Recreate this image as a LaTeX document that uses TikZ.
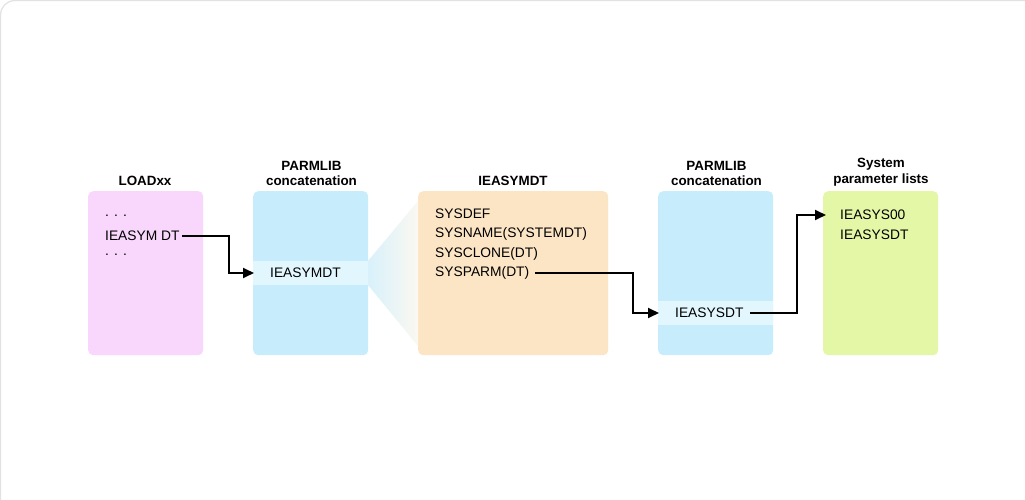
\documentclass[tikz,border=0pt]{standalone}
\usepackage{fontspec}
\setmainfont{Liberation Sans}
\usetikzlibrary{arrows.meta}
\definecolor{pinkbox}{HTML}{F9D6FB}
\definecolor{bluebox}{HTML}{C7EDFC}
\definecolor{bandblue}{HTML}{E2F6FE}
\definecolor{peachbox}{HTML}{FCE5C5}
\definecolor{greenbox}{HTML}{E4F7A6}
\definecolor{framegray}{HTML}{E2E2E2}
\definecolor{fanleft}{HTML}{D8F1FB}
\definecolor{fanright}{HTML}{FBF8F1}
\tikzset{
  panel/.style={rounded corners=5pt, draw=none, minimum width=115pt, minimum height=164pt, anchor=north west, inner sep=0pt},
  band/.style={fill=bandblue, draw=none, minimum width=115pt, minimum height=24pt, anchor=west, inner sep=0pt},
  title/.style={font=\bfseries\fontsize{13.4}{15.5}\selectfont, align=center, anchor=south, inner sep=0pt},
  txt/.style={font=\fontsize{13.8}{15}\selectfont, anchor=west, inner sep=0pt},
  conn/.style={line width=1.8pt, -{Triangle[length=11pt,width=10pt]}},
}
\begin{document}
\begin{tikzpicture}[x=1pt,y=-1pt]
\useasboundingbox (0,0) rectangle (1025,500);
\begin{scope}
\clip (0,0) rectangle (1025,500);
\draw[framegray, line width=1.2pt, rounded corners=14pt, fill=white] (0.6,0.6) rectangle (1060,540);
\end{scope}
% panels
\node[panel, fill=pinkbox] (load) at (88,191) {};
\node[panel, fill=bluebox] (plib1) at (253,191) {};
\node[panel, fill=peachbox, minimum width=190pt] (symdt) at (418,191) {};
\node[panel, fill=bluebox] (plib2) at (658,191) {};
\node[panel, fill=greenbox] (sys) at (823,191) {};
% bands
\node[band] (band1) at (253,273) {};
\node[band] (band2) at (658,313) {};
% fan
\shade[left color=fanleft, right color=fanright] (368,261) -- (418,201) -- (418,346) -- (368,285) -- cycle;
% titles
\node[title] (t1) at (145,186) {LOADxx};
\node[title] (t2) at (311.5,186) {PARMLIB\\concatenation};
\node[title] (t3) at (513,186) {IEASYMDT};
\node[title] (t4) at (716.5,186) {PARMLIB\\concatenation};
\node[title] (t5) at (881,186) {System\\parameter lists};
% texts
\node[txt] (d1) at (105,216) {. . .};
\node[txt] (ieasym) at (105,236) {IEASYM DT};
\node[txt] (d2) at (105,255) {. . .};
\node[txt] (b1) at (270,273) {IEASYMDT};
\node[txt] (s1) at (435,214) {SYSDEF};
\node[txt] (s2) at (435,234) {SYSNAME(SYSTEMDT)};
\node[txt] (s3) at (435,254) {SYSCLONE(DT)};
\node[txt] (s4) at (435,273) {SYSPARM(DT)};
\node[txt] (b2) at (675,313) {IEASYSDT};
\node[txt] (y1) at (840,215) {IEASYS00};
\node[txt] (y2) at (840,235) {IEASYSDT};
% connectors
\coordinate (a1) at (182,236);
\coordinate (a2) at (535,273);
\coordinate (a3) at (750,313);
\draw[conn] (a1) -| (229,254) |- ([xshift=-16pt]b1.west);
\draw[conn] (a2) -| (633,300) |- ([xshift=-16pt]b2.west);
\draw[conn] (a3) -| (797,230) |- ([xshift=-14pt]y1.west);
\end{tikzpicture}
\end{document}
